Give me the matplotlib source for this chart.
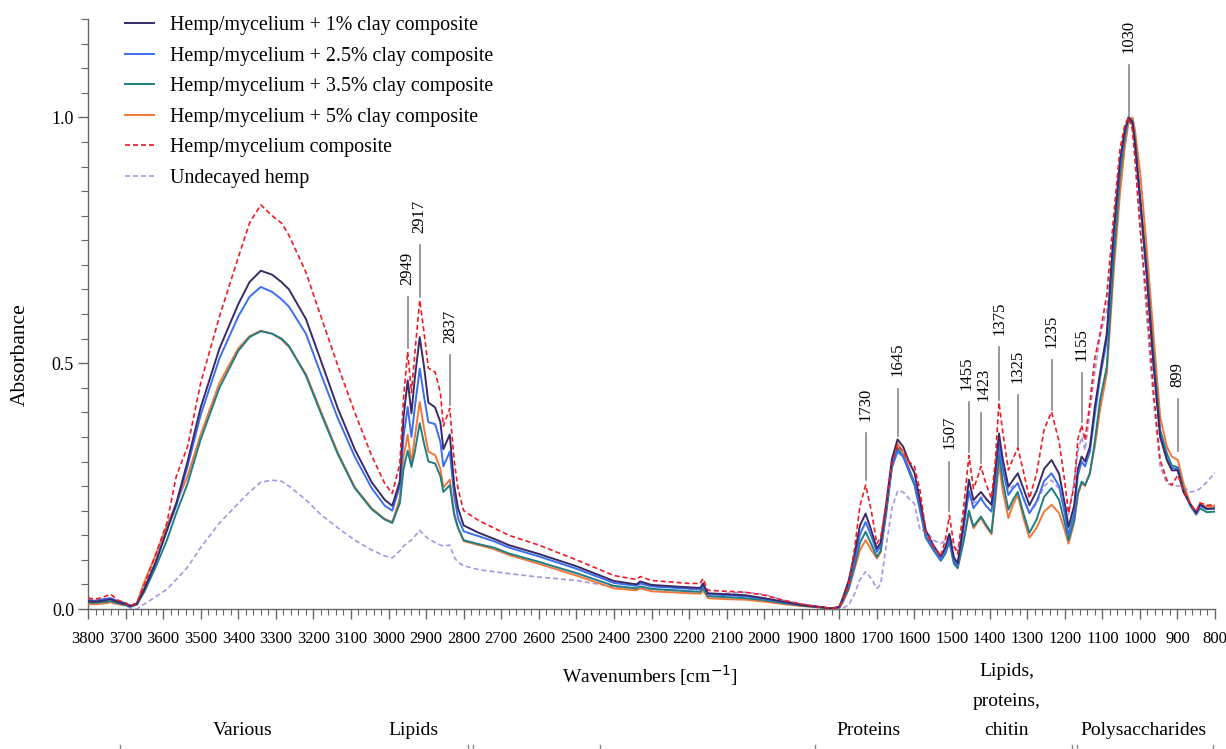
import numpy as np
import matplotlib
matplotlib.use("Agg")
import matplotlib.pyplot as plt
from matplotlib.ticker import MultipleLocator
from matplotlib.lines import Line2D

plt.rcParams['font.family'] = ['Liberation Serif', 'DejaVu Serif']

# wavenumber grid (cm-1) and absorbance
wavenumbers = [3800, 3780, 3760, 3740, 3720, 3700, 3687, 3670, 3650, 3620, 3590, 3565, 3535, 3500,
               3450, 3400, 3370, 3340, 3310, 3285, 3265, 3220, 3180, 3135, 3090, 3045, 3010, 2990,
               2970, 2960, 2949, 2939, 2930, 2917, 2905, 2894, 2876, 2862, 2854, 2837, 2825, 2815,
               2800, 2760, 2720, 2680, 2600, 2500, 2400, 2340, 2330, 2300, 2200, 2170, 2163, 2150,
               2100, 2050, 2000, 1950, 1900, 1850, 1820, 1800, 1790, 1775, 1760, 1745, 1730, 1715,
               1700, 1690, 1675, 1660, 1645, 1630, 1615, 1600, 1585, 1570, 1550, 1530, 1518, 1507,
               1495, 1485, 1470, 1455, 1443, 1433, 1423, 1410, 1395, 1385, 1375, 1365, 1350, 1338,
               1325, 1310, 1294, 1275, 1255, 1235, 1215, 1200, 1190, 1175, 1165, 1155, 1146, 1133,
               1120, 1106, 1088, 1070, 1053, 1040, 1030, 1020, 1013, 999, 982, 964, 946, 928,
               915, 899, 884, 866, 850, 840, 822, 800]

clay_1 = [.016, .015, .017, .020, .014, .010, .006, .010, .040, .095, .160, .215, .300, .410,
          .530, .620, .665, .688, .680, .665, .650, .590, .505, .408, .325, .258, .222, .210,
          .260, .390, .465, .398, .470, .553, .490, .420, .410, .380, .325, .355, .250, .205,
          .170, .155, .143, .130, .112, .087, .057, .050, .056, .049, .044, .043, .052, .032,
          .030, .028, .022, .015, .008, .004, .001, .005, .024, .058, .110, .170, .194, .160,
          .123, .135, .215, .305, .345, .330, .300, .277, .220, .160, .130, .107, .125, .153,
          .105, .093, .170, .263, .221, .230, .238, .225, .212, .280, .357, .305, .249, .262,
          .276, .245, .211, .240, .285, .303, .275, .215, .167, .210, .285, .310, .300, .330,
          .410, .480, .560, .763, .913, .975, 1.0, .990, .947, .831, .682, .500, .350, .303,
          .282, .282, .238, .214, .196, .213, .204, .205]

clay_2_5 = [.018, .017, .020, .022, .016, .012, .007, .011, .042, .095, .160, .210, .290, .395,
            .510, .595, .635, .655, .645, .630, .615, .560, .478, .388, .310, .246, .210, .200,
            .250, .350, .411, .350, .410, .489, .430, .380, .376, .340, .290, .320, .230, .185,
            .158, .148, .138, .125, .107, .082, .053, .047, .052, .046, .041, .040, .048, .030,
            .028, .026, .021, .014, .008, .004, .001, .004, .020, .050, .098, .152, .177, .148,
            .116, .128, .205, .288, .320, .310, .285, .256, .205, .150, .122, .100, .118, .144,
            .100, .088, .160, .240, .205, .215, .225, .210, .198, .255, .337, .285, .232, .245,
            .256, .225, .195, .218, .260, .276, .250, .195, .151, .195, .272, .300, .290, .320,
            .395, .470, .547, .750, .905, .970, 1.0, .990, .950, .825, .680, .500, .355, .305,
            .287, .284, .240, .212, .194, .210, .203, .204]

clay_3_5 = [.013, .013, .014, .016, .012, .008, .005, .009, .035, .085, .140, .195, .255, .345,
            .450, .525, .553, .565, .560, .550, .535, .475, .398, .315, .246, .203, .182, .175,
            .215, .285, .322, .289, .320, .378, .335, .300, .296, .270, .238, .252, .190, .165,
            .140, .132, .125, .113, .096, .073, .047, .042, .046, .041, .036, .035, .043, .026,
            .024, .022, .018, .012, .007, .003, .001, .003, .016, .042, .085, .135, .157, .132,
            .106, .118, .195, .290, .327, .310, .280, .252, .200, .145, .120, .098, .112, .137,
            .092, .083, .135, .200, .168, .178, .188, .172, .155, .230, .316, .260, .202, .222,
            .238, .195, .155, .182, .228, .246, .222, .175, .140, .180, .235, .259, .252, .275,
            .340, .425, .493, .709, .880, .960, 1.0, .993, .955, .835, .695, .520, .364, .316,
            .292, .288, .245, .210, .192, .205, .197, .198]

clay_5 = [.010, .010, .011, .014, .010, .008, .006, .012, .055, .110, .170, .215, .270, .355,
          .460, .530, .555, .566, .560, .548, .533, .478, .402, .318, .248, .205, .183, .177,
          .225, .310, .355, .296, .350, .421, .365, .320, .313, .285, .247, .263, .195, .165,
          .138, .130, .122, .110, .092, .068, .042, .038, .042, .036, .032, .031, .038, .022,
          .020, .019, .015, .010, .006, .003, .001, .003, .015, .040, .080, .120, .140, .120,
          .103, .115, .200, .298, .337, .318, .288, .256, .205, .148, .122, .100, .114, .137,
          .095, .085, .135, .197, .164, .175, .185, .168, .152, .220, .296, .240, .185, .212,
          .232, .185, .145, .165, .198, .212, .195, .160, .133, .175, .232, .256, .250, .278,
          .330, .405, .479, .682, .845, .940, .990, 1.0, .974, .886, .736, .560, .391, .330,
          .310, .303, .256, .214, .195, .213, .208, .210]

mycelium = [.022, .020, .024, .030, .018, .012, .006, .012, .050, .110, .175, .270, .330, .460,
            .595, .715, .785, .822, .800, .785, .760, .685, .595, .495, .400, .312, .255, .235,
            .295, .430, .523, .440, .520, .628, .560, .490, .482, .440, .372, .408, .300, .245,
            .200, .180, .165, .150, .130, .100, .068, .060, .066, .058, .052, .052, .062, .038,
            .036, .034, .028, .018, .010, .004, .001, .004, .020, .050, .120, .210, .252, .200,
            .133, .145, .215, .295, .333, .320, .300, .290, .240, .160, .127, .108, .140, .190,
            .130, .112, .200, .312, .245, .265, .290, .255, .225, .300, .420, .360, .283, .305,
            .328, .280, .225, .275, .365, .401, .340, .260, .195, .250, .345, .374, .343, .420,
            .510, .560, .640, .797, .935, .985, 1.0, .975, .913, .770, .628, .446, .303, .262,
            .252, .272, .242, .214, .198, .216, .211, .212]

undecayed = [.012, .012, .012, .012, .010, .006, .002, .000, .010, .025, .040, .060, .085, .125,
             .175, .215, .238, .258, .262, .260, .250, .222, .192, .165, .140, .120, .108, .104,
             .118, .128, .135, .140, .148, .160, .150, .143, .135, .130, .128, .130, .105, .095,
             .088, .080, .076, .072, .065, .058, .045, .040, .042, .040, .036, .035, .040, .030,
             .032, .034, .030, .018, .010, .004, .000, .000, .002, .008, .030, .060, .076, .062,
             .042, .050, .130, .205, .240, .238, .225, .214, .160, .160, .140, .133, .140, .150,
             .125, .120, .170, .233, .215, .220, .228, .222, .215, .260, .323, .285, .242, .250,
             .256, .228, .195, .215, .250, .262, .245, .215, .192, .260, .320, .350, .323, .400,
             .480, .555, .610, .760, .915, .975, 1.0, .980, .930, .777, .594, .425, .290, .255,
             .252, .250, .249, .238, .240, .245, .258, .277]

series_labels = ["Hemp/mycelium + 1% clay composite", "Hemp/mycelium + 2.5% clay composite",
                 "Hemp/mycelium + 3.5% clay composite", "Hemp/mycelium + 5% clay composite",
                 "Hemp/mycelium composite", "Undecayed hemp"]

# peak marks: wavenumber, bottom and top of the guide line (absorbance)
peak_wn = [2949, 2917, 2837, 1730, 1645, 1507, 1455, 1423, 1375, 1325, 1235, 1155, 1030, 899]
peak_lo = [0.530, 0.635, 0.415, 0.262, 0.352, 0.200, 0.320, 0.296, 0.425, 0.332, 0.405, 0.380, 1.002, 0.322]
peak_hi = [0.634, 0.740, 0.516, 0.358, 0.448, 0.300, 0.421, 0.398, 0.533, 0.435, 0.506, 0.480, 1.106, 0.427]

region_labels = ["Various", "Lipids", "Proteins", "Lipids,\nproteins,\nchitin", "Polysaccharides"]
region_x_px = [243, 413, 868, 1007, 1143]

W, H = 1226, 749
fig = plt.figure(figsize=(W / 100, H / 100), dpi=100)
ax = fig.add_axes([88 / W, 1 - 609 / H, (1215 - 88) / W, (609 - 19) / H])

styles = [
    dict(color="#3a2a66", lw=1.4, ls="-"),
    dict(color="#3b6ff0", lw=1.4, ls="-"),
    dict(color="#1f7f83", lw=1.4, ls="-"),
    dict(color="#f2773a", lw=1.4, ls="-"),
    dict(color="#ee1c25", lw=1.2, ls=(0, (3, 1.8))),
    dict(color="#a797e0", lw=1.2, ls=(0, (3, 1.8))),
]
all_series = [clay_1, clay_2_5, clay_3_5, clay_5, mycelium, undecayed]
draw_order = [5, 3, 2, 1, 0, 4]
lines = {}
for i in draw_order:
    ln, = ax.plot(wavenumbers, all_series[i], label=series_labels[i], zorder=3 + draw_order.index(i), **styles[i])
    lines[i] = ln

ax.set_xlim(3800, 800)
ax.set_ylim(0, 1.2)

ax.xaxis.set_major_locator(MultipleLocator(100))
ax.xaxis.set_minor_locator(MultipleLocator(20))
ax.yaxis.set_major_locator(MultipleLocator(0.5))
ax.yaxis.set_minor_locator(MultipleLocator(0.05))
ax.xaxis.set_major_formatter(plt.FuncFormatter(lambda v, p: f"{int(v)}"))
ax.yaxis.set_major_formatter(plt.FuncFormatter(lambda v, p: f"{v:.1f}"))

for side in ["top", "right"]:
    ax.spines[side].set_visible(False)
for side in ["left", "bottom"]:
    ax.spines[side].set_color("#666666")
    ax.spines[side].set_linewidth(1.0)

ax.tick_params(axis="x", which="major", length=7, width=1, color="#666666", pad=9, labelsize=12)
ax.tick_params(axis="x", which="minor", length=4, width=0.8, color="#666666")
ax.tick_params(axis="y", which="major", length=7, width=1, color="#666666", pad=3, labelsize=13)
ax.tick_params(axis="y", which="minor", length=5, width=0.8, color="#666666")

fig.text(20 / W, 1 - 355 / H, "Absorbance", fontsize=15.5, rotation=90, ha="center", va="center")
fig.text(650 / W, 1 - 676 / H, "Wavenumbers [cm$^{-1}$]", fontsize=14, ha="center", va="center")

# peak guide lines and labels (1455/1423 labels pushed slightly apart)
for wn, lo, hi in zip(peak_wn, peak_lo, peak_hi):
    ax.plot([wn, wn], [lo, hi], color="#888888", lw=1.2, zorder=10)
    dx = {1455: -1.5, 1423: 1.5}.get(wn, 0)
    ax.annotate(str(wn), (wn, hi + 0.025), xytext=(dx, 0), textcoords="offset points",
                rotation=90, ha="center", va="bottom", fontsize=12, zorder=10)

leg_handles = [lines[i] for i in range(6)]
ax.legend(leg_handles, series_labels, loc="upper left", bbox_to_anchor=(125 / W, 1 - 16 / H),
          bbox_transform=fig.transFigure, frameon=False, fontsize=14.4, handlelength=1.45,
          handletextpad=0.8, labelspacing=0.58, borderpad=0, borderaxespad=0)

# band assignment labels under the axis
for lab, xp in zip(region_labels, region_x_px):
    fig.text(xp / W, 1 - 735 / H, lab, fontsize=14, ha="center", va="baseline", linespacing=1.95)

# small bracket ends cut by the lower border
for xp in [120, 468, 473, 600, 815, 1072, 1077, 1213]:
    fig.add_artist(Line2D([xp / W, xp / W], [0, 4 / H], color="#888888", lw=1, transform=fig.transFigure))

fig.savefig("out.png", dpi=100)
